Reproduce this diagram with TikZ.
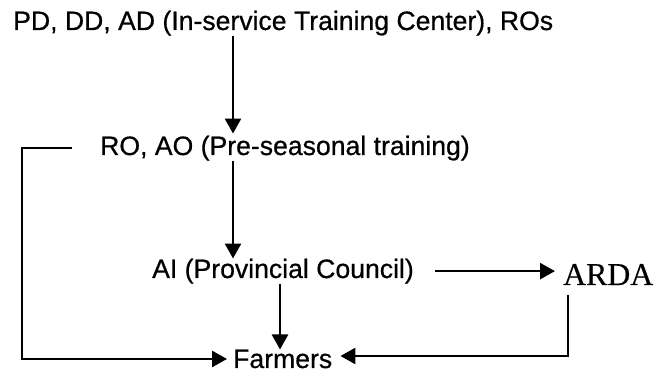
\documentclass[tikz,border=0pt]{standalone}
\usepackage{fontspec}
\setmainfont{Liberation Sans}[FakeBold=0.6]
\newfontfamily\ardafont{Liberation Serif}[FakeBold=0.3]
\usetikzlibrary{arrows.meta}
\begin{document}
\begin{tikzpicture}[x=1pt,y=-1pt,
  lbl/.style={inner sep=0pt, anchor=base west, font=\fontsize{26.6pt}{30pt}\selectfont},
  arr/.style={line width=2.6pt, -{Triangle[length=15pt,width=16pt]}}]
  \useasboundingbox (0,0) rectangle (657,374);

  % levels of the training chain
  \node[lbl] (top) at (13,30) {PD, DD, AD (In-service Training Center), ROs};
  \node[lbl] (ro) at (100,155) {RO, AO (Pre-seasonal training)};
  \node[lbl] (ai) at (152,278) {AI (Provincial Council)};
  \node[lbl, font=\ardafont\fontsize{31.8pt}{34pt}\selectfont] (arda) at (563,285) {ARDA};
  \node[lbl] (farmers) at (233,368) {Farmers};

  % routing points
  \coordinate (c1) at (233,0);
  \coordinate (c2) at (280,0);
  \coordinate (lb) at (22,146);
  \coordinate (rb) at (568,356);

  % vertical flow
  \draw[arr, shorten >=2pt] (top.south -| c1) -- (ro.north -| c1);
  \draw[arr] (ro.south -| c1) -- (ai.north -| c1);
  \draw[arr] (ai.south -| c2) -- (farmers.north -| c2);

  % side links
  \draw[arr, shorten <=21pt, shorten >=8pt] (ai.east) -- (ai.east -| arda.west);
  \draw[arr, shorten <=28pt, shorten >=6pt] (ro.west) -- (ro.west -| lb) -- (lb |- farmers.west) -- (farmers.west);
  \draw[arr, shorten <=10pt, shorten >=8pt] (arda.south -| rb) -- (rb) -- (farmers.east |- rb);
\end{tikzpicture}
\end{document}
